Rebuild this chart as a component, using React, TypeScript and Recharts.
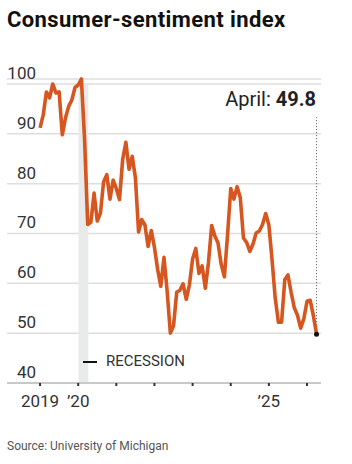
import React from "react";
import {
  LineChart,
  Line,
  XAxis,
  YAxis,
  CartesianGrid,
  ReferenceArea,
  ReferenceLine,
  ReferenceDot,
} from "recharts";

// Monthly index, Jan 2019 .. Apr 2026
const values2019 = [91.2, 93.8, 98.4, 97.2, 100.0, 98.2, 98.4, 89.8, 93.2, 95.5, 96.8, 99.3];
const values2020 = [99.8, 101.0, 89.1, 71.8, 72.3, 78.1, 72.5, 74.1, 80.4, 81.8, 76.9, 80.7];
const values2021 = [79.0, 76.8, 84.9, 88.3, 82.9, 85.5, 81.2, 70.3, 72.8, 71.7, 67.4, 70.6];
const values2022 = [67.2, 62.8, 59.4, 65.2, 58.4, 50.0, 51.5, 58.2, 58.6, 59.9, 56.8, 59.7];
const values2023 = [64.9, 67.0, 62.0, 63.5, 59.0, 64.2, 71.6, 69.5, 68.1, 63.8, 61.3, 69.7];
const values2024 = [79.0, 76.9, 79.4, 77.2, 69.1, 68.2, 66.4, 67.9, 70.1, 70.5, 71.8, 74.0];
const values2025 = [71.7, 64.7, 57.0, 52.2, 52.2, 60.7, 61.7, 58.2, 55.1, 53.6, 51.0, 52.9];
const values2026 = [56.4, 56.6, 53.5, 49.8];

const allValues = [
  ...values2019, ...values2020, ...values2021, ...values2022,
  ...values2023, ...values2024, ...values2025, ...values2026,
];

const yTicks = [40, 50, 60, 70, 80, 90, 100];
const xTicks = [0, 12, 24, 36, 48, 60, 72, 84];
const xTickLabels: Record<number, string> = { 0: "2019", 12: "\u201920", 72: "\u201925" };

const recessionStart = 12.1;
const recessionEnd = 15.2;
const lastLabel = "April:";
const lastValue = 49.8;

const data = allValues.map((v, i) => ({ m: i, v }));
const lastIndex = data.length - 1;

const FONT = "Roboto, 'Noto Sans', sans-serif";

const renderYTick = (props: any) => {
  const { y, payload } = props;
  return (
    <text key={`yt-${payload.value}`} x={36} y={y - 5} textAnchor="end" fill="#333" fontSize={17} fontFamily={FONT}>
      {payload.value}
    </text>
  );
};

const renderXTick = (props: any) => {
  const { x, y, payload } = props;
  const label = xTickLabels[payload.value] ?? "";
  return (
    <text key={`xt-${payload.value}`} x={x} y={y + 19} textAnchor="middle" fill="#333" fontSize={17} fontFamily={FONT}>
      {label}
    </text>
  );
};

export default function App() {
  return (
    <div style={{ position: "absolute", left: 0, top: 0, width: 352, height: 464, background: "#fff", fontFamily: FONT }}>
      <div style={{ position: "absolute", left: 7, top: 7, fontSize: 22, fontWeight: 700, color: "#111", whiteSpace: "nowrap", letterSpacing: 0.4 }}>
        Consumer-sentiment index
      </div>
      <LineChart
        width={352}
        height={464}
        data={data}
        margin={{ top: 79, right: 31, bottom: 51, left: 6 }}
        style={{ position: "absolute", left: 0, top: 0 }}
      >
        <CartesianGrid vertical={false} stroke="#dedede" strokeWidth={1.5} />
        <ReferenceArea x1={recessionStart} x2={recessionEnd} y1={40} y2={100} fill="#e9eaea" fillOpacity={1} stroke="none" />
        <XAxis
          dataKey="m"
          type="number"
          domain={[-10.4, 88.4]}
          ticks={xTicks}
          tick={renderXTick}
          axisLine={{ stroke: "#c8c8c8", strokeWidth: 2 }}
          tickLine={{ stroke: "#333", strokeWidth: 2 }}
          tickSize={3}
          height={30}
          interval={0}
        />
        <YAxis
          type="number"
          domain={[40, 100]}
          ticks={yTicks}
          width={1}
          axisLine={false}
          tickLine={false}
          tick={renderYTick}
          interval={0}
        />
        <ReferenceLine
          segment={[{ x: lastIndex, y: lastValue }, { x: lastIndex, y: 93.3 }]}
          stroke="#555"
          strokeDasharray="1 2"
          strokeWidth={1}
        />
        <Line
          type="linear"
          dataKey="v"
          stroke="#d6561f"
          strokeWidth={3.6}
          dot={false}
          isAnimationActive={false}
          strokeLinejoin="round"
        />
        <ReferenceDot x={lastIndex} y={lastValue} r={2.5} fill="#111" stroke="none" />
      </LineChart>
      <div style={{ position: "absolute", right: 352 - 316, top: 87, fontSize: 20, color: "#222", whiteSpace: "nowrap" }}>
        {lastLabel} <span style={{ fontWeight: 700 }}>{lastValue}</span>
      </div>
      <div style={{ position: "absolute", left: 83, top: 361, width: 14, height: 2, background: "#111" }} />
      <div style={{ position: "absolute", left: 106, top: 352, fontSize: 15, color: "#333", whiteSpace: "nowrap" }}>
        RECESSION
      </div>
      <div style={{ position: "absolute", left: 7, top: 439, fontSize: 12, color: "#555", whiteSpace: "nowrap" }}>
        Source: University of Michigan
      </div>
    </div>
  );
}
